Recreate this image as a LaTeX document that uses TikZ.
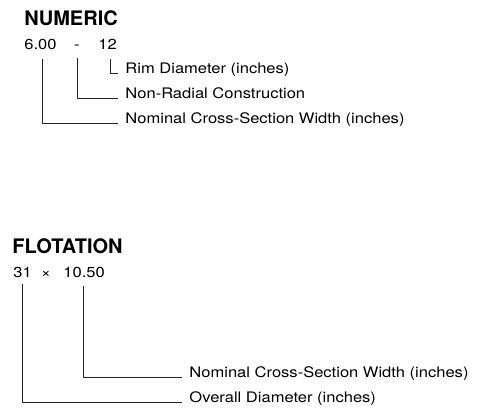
\documentclass[tikz,border=0pt]{standalone}
\usepackage{fontspec}
\setmainfont{TeX Gyre Heros}
\newfontfamily\lblfont[FakeStretch=1.14]{TeX Gyre Heros}
\usetikzlibrary{positioning,calc}

\begin{document}
\begin{tikzpicture}[x=1bp,y=-1bp,line join=bevel,
    head/.style={anchor=base west,inner sep=0pt,font=\fontsize{20bp}{24bp}\selectfont\bfseries},
    code/.style={anchor=base west,inner sep=0pt,font=\fontsize{14.5bp}{17bp}\lblfont},
    lbl/.style={code},
    leader/.style={draw=black!85}]
  \pgfsetlinewidth{0.9bp}
  \useasboundingbox (0,0) rectangle (500,418);
  %%
  % Node: numeric
  \begin{scope}
    \node[head] (numhead) at (24,25) {NUMERIC};
    \node[code] (secw) at (24,49) {6.00};
    \node[code,anchor=base] (cons) at (77,49) {-};
    \node[code] (rimd) at (98,49) {12};
    \node[lbl] (rimtxt) at (125,73) {Rim Diameter (inches)};
    \node[lbl] (constxt) at (125,98) {Non-Radial Construction};
    \node[lbl] (secwtxt) at (125,123) {Nominal Cross-Section Width (inches)};
    \draw[leader] ([xshift=3bp,yshift=-10bp]rimd.south) |- ([xshift=-7bp,yshift=-0.5bp]rimtxt.base west);
    \draw[leader] ([yshift=-9bp]cons.south) |- ([xshift=-7bp,yshift=-0.5bp]constxt.base west);
    \draw[leader] ([xshift=2bp,yshift=-9bp]secw.south) |- ([xshift=-7bp,yshift=-0.5bp]secwtxt.base west);
  \end{scope}
  %
  % Node: flotation
  \begin{scope}
    \node[head] (flohead) at (12,253) {FLOTATION};
    \node[code] (odia) at (13,277) {31};
    \node[code,anchor=base] (times) at (46,277) {×};
    \node[code] (flow) at (63,277) {10.50};
    \node[lbl] (flowtxt) at (189,377) {Nominal Cross-Section Width (inches)};
    \node[lbl] (odiatxt) at (189,402) {Overall Diameter (inches)};
    \draw[leader] ([xshift=-1bp,yshift=-8bp]flow.south) |- ([xshift=-7bp,yshift=-0.5bp]flowtxt.base west);
    \draw[leader] ([yshift=-6bp]odia.south) |- ([xshift=-7bp,yshift=-0.5bp]odiatxt.base west);
  \end{scope}
  %
\end{tikzpicture}
\end{document}
